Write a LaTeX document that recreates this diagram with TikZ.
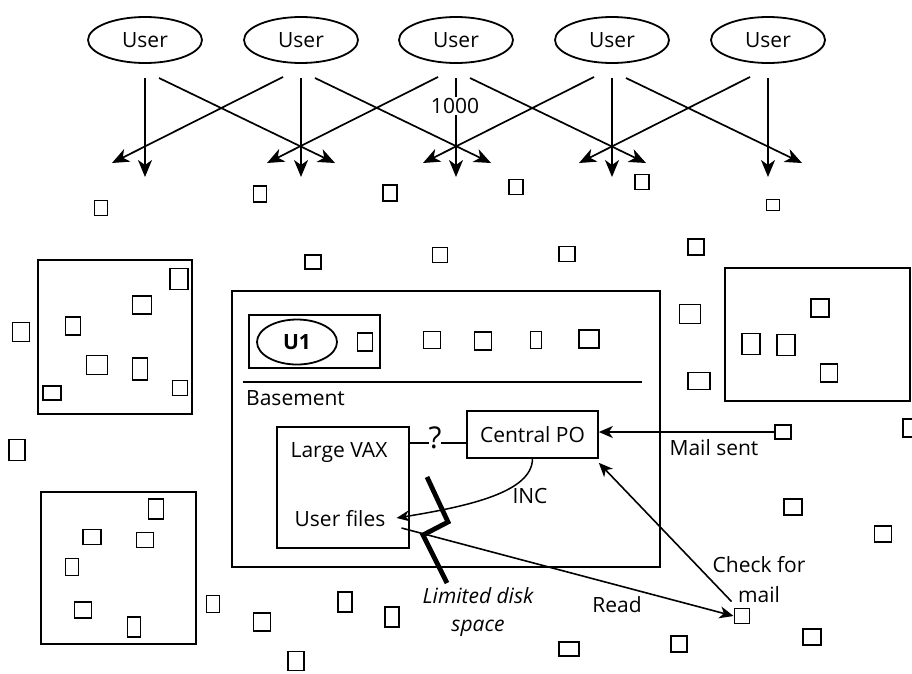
\documentclass[tikz,border=0pt]{standalone}
\usepackage{fontspec}
\setmainfont{Open Sans}
\usetikzlibrary{arrows.meta,calc,shapes.geometric}
\newcommand\mysq[5]{\node[sq,minimum width=#4pt,minimum height=#5pt] (#1) at (#2,#3) {};}
\begin{document}
\begin{tikzpicture}[x=1pt,y=-1pt,
  every node/.style={font=\fontsize{21}{25}\selectfont},
  sq/.style={draw,line width=1.9pt,inner sep=0pt},
  box/.style={draw,line width=1.6pt,inner sep=0pt},
  user/.style={draw,ellipse,line width=1.8pt,minimum width=114pt,minimum height=46pt,inner sep=0pt},
  bigarr/.style={line width=1.7pt,-{Stealth[length=17pt,width=14pt,inset=5pt]}},
  arr/.style={line width=1.6pt,-{Stealth[length=14pt,width=12pt,inset=4pt]}},
  thin/.style={line width=1.5pt},
]
\useasboundingbox (0,0) rectangle (912,673);

% users
\foreach \i/\x in {1/145,2/301,3/456,4/612,5/768}
  \node[user] (u\i) at (\x,40) {User};
\foreach \i in {1,...,5}
  \draw[bigarr] ($(u\i)+(0,38)$) -- ($(u\i)+(0,137)$);
\foreach \i in {1,...,4}
  \draw[bigarr] ($(u\i)+(14,38)$) -- ($(u\i)+(190,123)$);
\foreach \i in {2,...,5}
  \draw[bigarr] ($(u\i)+(-18,37)$) -- ($(u\i)+(-189,123)$);
\node[fill=white,inner sep=1pt] (n1000) at (455,106) {1000};

% top scattered squares
\mysq{t1}{101}{208}{13}{15}
\mysq{t2}{260}{194}{13}{16}
\mysq{t3}{390}{193}{14}{16}
\mysq{t4}{516}{187}{14}{15}
\mysq{t5}{642}{182}{14}{15}
\mysq{t6}{773}{205}{13}{11}

\mysq{r1}{313}{262}{16}{14}
\mysq{r2}{440}{255}{15}{15}
\mysq{r3}{567}{254}{16}{15}
\mysq{r4}{696}{247}{16}{16}
\mysq{r5}{690}{314}{21}{19}
\mysq{r6}{699}{381}{22}{17}
\mysq{r7}{21}{332}{17}{19}
\mysq{r8}{17}{450}{16}{21}

% left top box
\node[box,minimum width=154pt,minimum height=154pt] (lb1) at (115,337) {};
\mysq{a1}{179}{279}{18}{21}
\mysq{a2}{142}{305}{19}{18}
\mysq{a3}{73}{326}{15}{18}
\mysq{a4}{97}{365}{21}{19}
\mysq{a5}{140}{369}{15}{22}
\mysq{a6}{52}{393}{18}{14}
\mysq{a7}{180}{388}{15}{15}

% basement box
\node[box,minimum width=428pt,minimum height=276pt] (base) at (446,429) {};
\node[box,minimum width=131pt,minimum height=53pt] (u1box) at (314.5,341.5) {};
\node[user,minimum width=80pt,minimum height=45pt,font=\bfseries\fontsize{21}{25}\selectfont] (u1e) at (297,342) {U1};
\mysq{b0}{365}{342}{15}{18}
\mysq{b1}{432}{340}{17}{17}
\mysq{b2}{483}{341}{17}{18}
\mysq{b3}{536}{340}{11}{17}
\mysq{b4}{589}{339}{20}{18}
\draw[thin] (243,382) -- (642,382);
\node[anchor=west,inner sep=0pt] (bs) at (246,398) {Basement};
\node[box,minimum width=132pt,minimum height=121pt] (vax) at (343,487.5) {};
\node (lv) at (339,452) {Large VAX};
\node[inner sep=0pt] (uf) at (340,519) {User files};
\node[box,minimum width=131pt,minimum height=47pt] (cpo) at (532.5,434.5) {Central PO};
\node[font=\fontsize{30}{36}\selectfont,inner sep=1pt] (q) at (435,438) {?};
\coordinate (qy) at (0,443);
\draw[thin] (vax.east |- qy) -- ($(q.west |- qy)+(2,0)$);
\draw[thin] ($(q.east |- qy)+(-2,0)$) -- (cpo.west |- qy);

% INC
\draw[line width=1.5pt,-{Stealth[length=13pt,width=11pt,inset=4pt]}] (cpo.south) .. controls (532,492) and (470,506) .. ($(uf.east)+(11,-1)$);
\node (inc) at (530,496) {INC};

% zigzag
\draw[line width=4.8pt,miter limit=10] (427,477) -- (448,522) -- (423,535) -- (447,583);
\node[align=center,font=\itshape\fontsize{21}{28}\selectfont] (lds) at (478,612) {Limited disk\\space};

% right box
\node[box,minimum width=185pt,minimum height=133pt] (rb) at (817.5,334.5) {};
\mysq{c1}{820}{308}{18}{18}
\mysq{c2}{751}{344}{18}{21}
\mysq{c3}{786}{345}{18}{21}
\mysq{c4}{829}{373}{17}{18}

% right side
\mysq{ms}{783}{432}{16}{14}
\draw[line width=1.9pt] (912,419) -| (903,437) -- (912,437);
\mysq{d1}{793}{507}{18}{16}
\mysq{d2}{883}{534}{17}{16}
\mysq{chk}{742}{616}{15}{15}
\mysq{d3}{569}{649}{20}{14}
\mysq{d4}{679}{644}{16}{16}
\mysq{d5}{812}{637}{18}{16}

\draw[arr] (ms.west) -- (ms.west -| cpo.east);
\node (mstext) at (714,448) {Mail sent};
\draw[arr] ($(chk.north west)+(-2,-6)$) -- ($(cpo.south east)+(0,4)$);
\node[align=center,font=\fontsize{21}{30}\selectfont] (cfm) at (759,580) {Check for\\mail};
\draw[arr] ($(uf.east)+(16,9)$) -- (chk.west);
\node (rd) at (617,605) {Read};

% bottom left box
\node[box,minimum width=155pt,minimum height=152pt] (lb2) at (118.5,568) {};
\mysq{e1}{156}{509}{15}{20}
\mysq{e2}{92}{537}{18}{15}
\mysq{e3}{145}{540}{17}{15}
\mysq{e4}{72}{567}{13}{17}
\mysq{e5}{83}{610}{17}{16}
\mysq{e6}{134}{627}{13}{20}

\mysq{f1}{213}{604}{13}{17}
\mysq{f2}{262}{622}{17}{18}
\mysq{f3}{345}{602}{14}{20}
\mysq{f4}{392}{617}{14}{20}
\mysq{f5}{296}{661}{16}{19}
\end{tikzpicture}
\end{document}
